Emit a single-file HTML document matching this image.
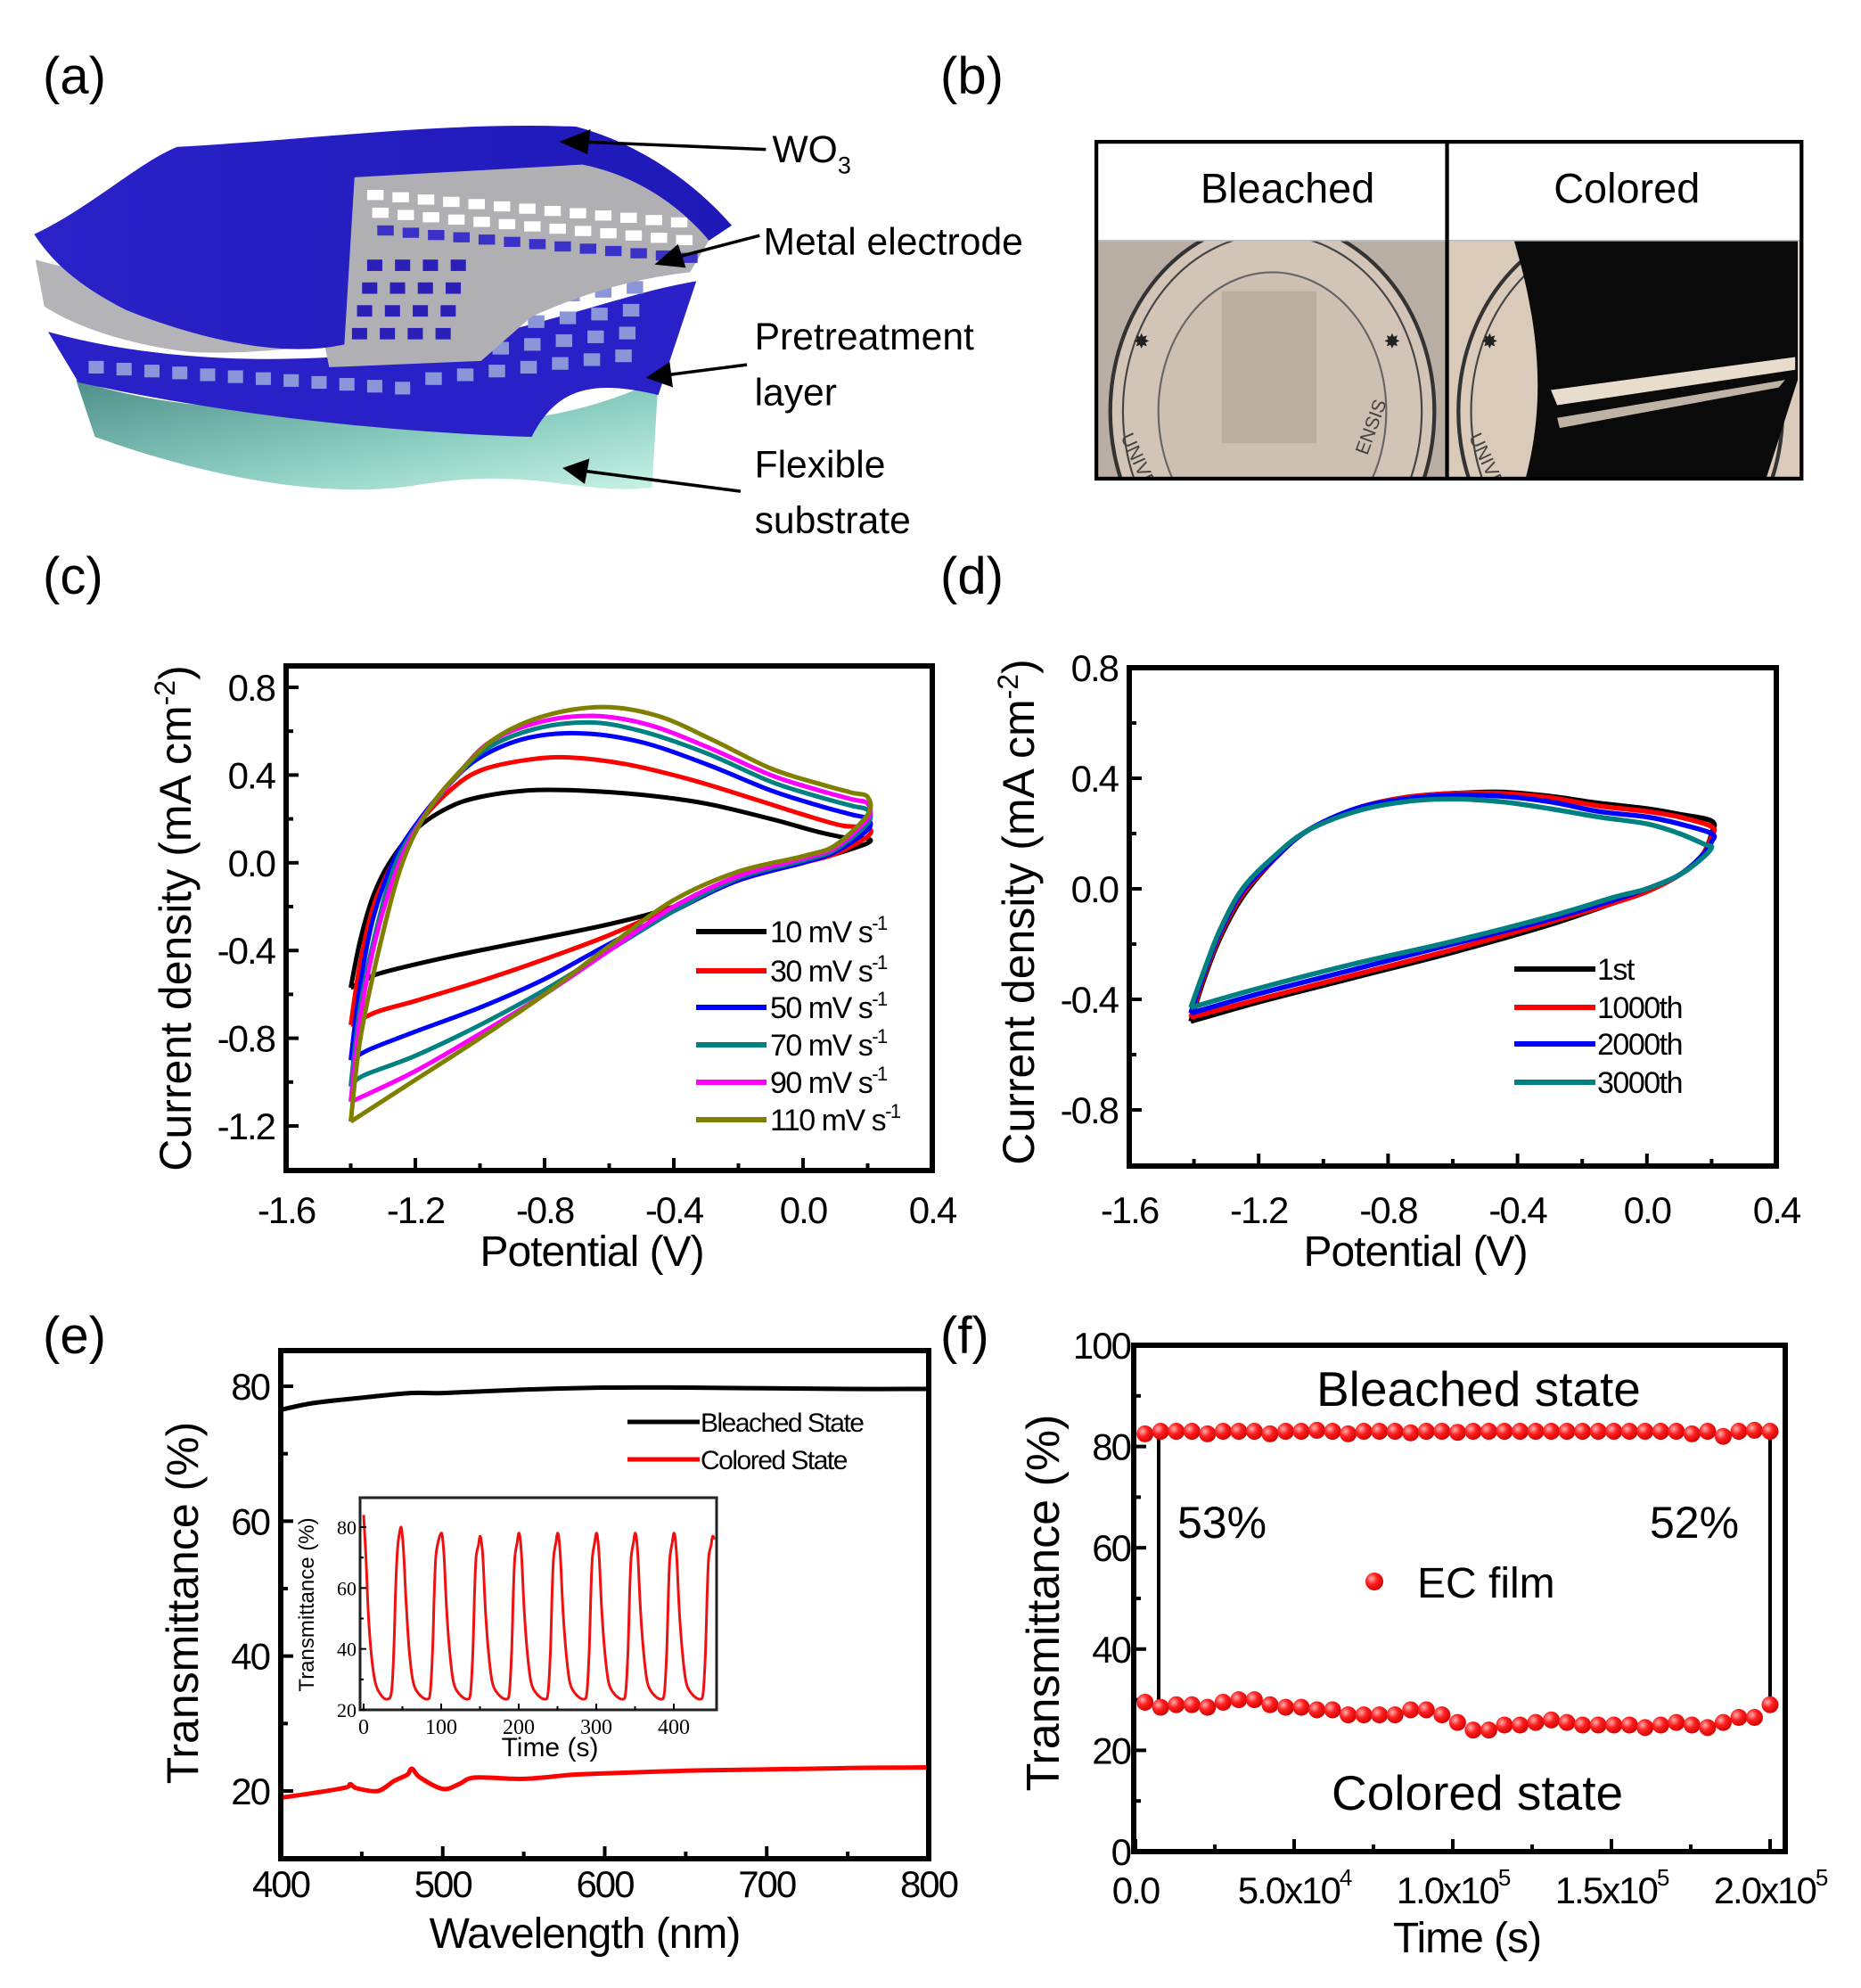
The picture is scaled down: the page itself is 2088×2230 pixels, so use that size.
<!DOCTYPE html>
<html><head><meta charset="utf-8">
<style>
html,body{margin:0;padding:0;background:#fff;}
svg{display:block;font-family:"Liberation Sans",Arial,sans-serif;}
</style></head>
<body>
<svg id="fig" xmlns="http://www.w3.org/2000/svg" width="2088" height="2230" viewBox="0 0 2088 2230">
<defs>
<linearGradient id="tealg" x1="0" y1="0" x2="1" y2="1">
<stop offset="0" stop-color="#4f8f8a"/><stop offset="0.6" stop-color="#8fd0c4"/><stop offset="1" stop-color="#c8f2e6"/>
</linearGradient>
<linearGradient id="blueg" x1="0" y1="0" x2="1" y2="0">
<stop offset="0" stop-color="#2a22c8"/><stop offset="1" stop-color="#1f18b8"/>
</linearGradient>
<radialGradient id="dotg" cx="0.35" cy="0.35" r="0.7">
<stop offset="0" stop-color="#ffb0b0"/><stop offset="0.45" stop-color="#ff2020"/><stop offset="1" stop-color="#d00000"/>
</radialGradient>
<clipPath id="clipc"><rect x="321" y="747" width="725" height="566"/></clipPath>
<clipPath id="clipd"><rect x="1267" y="749" width="726" height="559"/></clipPath>
<clipPath id="clipe"><rect x="315" y="1515" width="727" height="570"/></clipPath>
<clipPath id="clipi"><rect x="404" y="1680" width="400" height="238"/></clipPath>
</defs>

<text x="48" y="105" font-size="58">(a)</text>
<text x="1055" y="105" font-size="58">(b)</text>
<text x="48" y="666" font-size="58">(c)</text>
<text x="1055" y="666" font-size="58">(d)</text>
<text x="48" y="1518" font-size="58">(e)</text>
<text x="1055" y="1518" font-size="58">(f)</text>

<g transform="scale(1.42043)">
  <path d="M60,300 C150,330 250,322 330,330 C400,338 460,328 520,300 L515,385 C460,392 420,368 330,383 C250,396 150,372 75,345 Z" fill="url(#tealg)"/>
  <path d="M38,262 C120,285 230,290 330,275 C420,262 490,232 550,222 L520,312 C470,300 440,305 420,345 C330,342 200,332 62,302 Z" fill="#2a20c8"/>
  <g id="pretreat-holes"></g>
  <path d="M28,205 C110,228 220,232 300,215 C380,198 460,170 520,158 L560,190 C520,196 470,212 430,226 C340,262 230,282 150,278 C100,272 60,258 35,242 Z" fill="#b4b4b8"/>
  <path d="M265,140 L460,130 C500,138 535,160 560,190 L545,215 C500,220 460,232 420,250 L380,285 L260,290 L250,240 Z" fill="#b0b0b4"/>
  <g id="mesh-holes"></g>
  <path d="M27,185 C70,165 110,128 140,116 C250,110 350,96 455,100 C500,112 545,140 578,178 L560,190 C535,160 500,138 460,130 L280,140 L272,272 C220,284 150,265 100,245 C60,225 40,205 27,185 Z" fill="url(#blueg)"/>
  <text x="610" y="128" font-size="30">WO<tspan font-size="19" dy="9">3</tspan></text>
  <text x="603" y="201" font-size="30">Metal electrode</text>
  <text x="596" y="276" font-size="30">Pretreatment</text>
  <text x="596" y="320" font-size="30">layer</text>
  <text x="596" y="377" font-size="30">Flexible</text>
  <text x="596" y="421" font-size="30">substrate</text>
  <g stroke="#000" stroke-width="2.5" fill="#000">
    <line x1="605" y1="118" x2="460" y2="112"/>
    <polygon points="445,112 465,104 463,120"/>
    <line x1="600" y1="186" x2="535" y2="203"/>
    <polygon points="520,208 535,195 540,210"/>
    <line x1="590" y1="288" x2="528" y2="296"/>
    <polygon points="513,298 528,288 530,304"/>
    <line x1="585" y1="388" x2="462" y2="372"/>
    <polygon points="447,370 464,364 461,380"/>
  </g>
</g>

<g transform="scale(1.42043)">
  <rect x="866" y="112" width="557" height="266" fill="#fff"/>
  <clipPath id="clipb1"><rect x="866" y="190" width="277" height="188"/></clipPath>
  <clipPath id="clipb2"><rect x="1143" y="190" width="280" height="188"/></clipPath>
  <rect x="866" y="190" width="277" height="188" fill="#b9aea3"/>
  <g clip-path="url(#clipb1)">
    <ellipse cx="1005" cy="325" rx="128" ry="150" fill="#d2c4b6" stroke="#333" stroke-width="3"/>
    <ellipse cx="1005" cy="325" rx="118" ry="140" fill="none" stroke="#444" stroke-width="1.5"/>
    <ellipse cx="1005" cy="325" rx="90" ry="110" fill="#cdbfb1" stroke="#666" stroke-width="1.5"/>
    <rect x="965" y="230" width="75" height="120" fill="#b7a89c" opacity="0.8"/>
    <text x="895" y="275" font-size="16" fill="#222">✸</text>
    <text x="1093" y="275" font-size="16" fill="#222">✸</text>
    <text x="885" y="345" font-size="15" fill="#444" transform="rotate(65 885 345)">UNIVER</text>
    <text x="1080" y="360" font-size="15" fill="#444" transform="rotate(-70 1080 360)">ENSIS</text>
  </g>
  <rect x="1143" y="190" width="280" height="188" fill="#d9cab9"/>
  <g clip-path="url(#clipb2)">
    <ellipse cx="1280" cy="325" rx="128" ry="150" fill="none" stroke="#333" stroke-width="3"/>
    <ellipse cx="1280" cy="325" rx="118" ry="140" fill="none" stroke="#444" stroke-width="1.5"/>
    <text x="1170" y="275" font-size="16" fill="#222">✸</text>
    <text x="1160" y="345" font-size="15" fill="#444" transform="rotate(65 1160 345)">UNIVE</text>
    <path d="M1196,190 L1420,190 L1420,300 L1395,378 L1205,378 C1215,340 1218,300 1210,250 C1205,220 1200,205 1196,190 Z" fill="#0a0a0a"/>
    <path d="M1225,308 L1418,282 L1418,292 L1230,320 Z" fill="#e8dccd"/>
    <path d="M1230,330 L1410,300 L1405,306 L1232,338 Z" fill="#bfb3a6"/>
  </g>
  <line x1="866" y1="190" x2="1423" y2="190" stroke="#bbb" stroke-width="1"/>
  <rect x="866" y="112" width="557" height="266" fill="none" stroke="#000" stroke-width="3"/>
  <line x1="1143" y1="112" x2="1143" y2="378" stroke="#000" stroke-width="3"/>
  <text x="1017" y="160" font-size="33" text-anchor="middle">Bleached</text>
  <text x="1285" y="160" font-size="33" text-anchor="middle">Colored</text>
</g>

<g id="charts"></g>
</svg>

<script>
const cLabels = ["10 mV s", "30 mV s", "50 mV s", "70 mV s", "90 mV s", "110 mV s"];
const cColors = ["#000000", "#ff0000", "#0000ff", "#008080", "#ff00ff", "#808000"];
const c10 = [[-1.4,-0.57],[-1.37,-0.35],[-1.33,-0.15],[-1.28,0.0],[-1.2,0.15],[-1.1,0.25],[-1.0,0.30],[-0.85,0.33],[-0.7,0.33],[-0.5,0.31],[-0.3,0.27],[-0.1,0.2],[0.05,0.14],[0.15,0.11],[0.2,0.11],[0.2,0.09],[0.1,0.04],[0.0,0.0],[-0.2,-0.08],[-0.4,-0.2],[-0.6,-0.28],[-0.9,-0.37],[-1.1,-0.43],[-1.3,-0.5],[-1.35,-0.53],[-1.4,-0.57]];
const c30 = [[-1.4,-0.74],[-1.37,-0.45],[-1.33,-0.2],[-1.27,0.0],[-1.2,0.16],[-1.1,0.32],[-1.0,0.42],[-0.85,0.47],[-0.72,0.48],[-0.55,0.45],[-0.35,0.38],[-0.15,0.29],[0.0,0.22],[0.12,0.17],[0.2,0.16],[0.2,0.12],[0.1,0.04],[0.0,0.0],[-0.2,-0.08],[-0.4,-0.2],[-0.6,-0.33],[-0.8,-0.44],[-1.0,-0.54],[-1.2,-0.63],[-1.32,-0.68],[-1.4,-0.74]];
const c50 = [[-1.4,-0.9],[-1.37,-0.55],[-1.33,-0.25],[-1.27,0.0],[-1.2,0.17],[-1.1,0.35],[-1.0,0.48],[-0.85,0.57],[-0.68,0.59],[-0.5,0.55],[-0.3,0.45],[-0.1,0.33],[0.05,0.26],[0.15,0.22],[0.2,0.2],[0.2,0.15],[0.1,0.05],[0.0,0.0],[-0.2,-0.08],[-0.4,-0.22],[-0.6,-0.37],[-0.8,-0.53],[-1.0,-0.66],[-1.2,-0.77],[-1.34,-0.85],[-1.4,-0.9]];
const c70 = [[-1.4,-1.02],[-1.37,-0.65],[-1.32,-0.3],[-1.26,0.0],[-1.18,0.2],[-1.08,0.38],[-0.98,0.52],[-0.83,0.61],[-0.66,0.64],[-0.5,0.6],[-0.3,0.5],[-0.1,0.37],[0.05,0.3],[0.15,0.26],[0.2,0.24],[0.2,0.18],[0.1,0.06],[0.0,0.01],[-0.2,-0.07],[-0.4,-0.22],[-0.6,-0.4],[-0.8,-0.58],[-1.0,-0.74],[-1.2,-0.88],[-1.36,-0.97],[-1.4,-1.02]];
const c90 = [[-1.4,-1.09],[-1.37,-0.7],[-1.32,-0.33],[-1.25,0.0],[-1.17,0.22],[-1.07,0.4],[-0.97,0.55],[-0.82,0.64],[-0.65,0.67],[-0.48,0.63],[-0.3,0.53],[-0.1,0.4],[0.05,0.33],[0.15,0.29],[0.2,0.27],[0.2,0.2],[0.1,0.07],[0.0,0.02],[-0.2,-0.06],[-0.4,-0.2],[-0.6,-0.4],[-0.8,-0.6],[-1.0,-0.78],[-1.2,-0.95],[-1.37,-1.07],[-1.4,-1.09]];
const c110 = [[-1.4,-1.18],[-1.37,-0.8],[-1.31,-0.38],[-1.24,0.0],[-1.16,0.24],[-1.06,0.42],[-0.95,0.57],[-0.8,0.67],[-0.62,0.71],[-0.45,0.67],[-0.28,0.56],[-0.1,0.43],[0.05,0.36],[0.15,0.32],[0.2,0.3],[0.2,0.22],[0.1,0.08],[0.0,0.03],[-0.2,-0.04],[-0.4,-0.17],[-0.6,-0.38],[-0.8,-0.6],[-1.0,-0.8],[-1.2,-0.99],[-1.4,-1.18]];
const cXTicks = [-1.6, -1.2, -0.8, -0.4, 0.0, 0.4];
const cXTickLabels = ["-1.6", "-1.2", "-0.8", "-0.4", "0.0", "0.4"];
const cYTicks = [0.8, 0.4, 0.0, -0.4, -0.8, -1.2];
const cYTickLabels = ["0.8", "0.4", "0.0", "-0.4", "-0.8", "-1.2"];

const dLabels = ["1st", "1000th", "2000th", "3000th"];
const dColors = ["#000000", "#ff0000", "#0000ff", "#008080"];
const d1 = [[-1.41,-0.48],[-1.37,-0.33],[-1.32,-0.18],[-1.25,-0.03],[-1.15,0.11],[-1.05,0.21],[-0.9,0.29],[-0.75,0.33],[-0.6,0.345],[-0.45,0.35],[-0.3,0.335],[-0.15,0.31],[0.0,0.29],[0.1,0.27],[0.2,0.245],[0.2,0.2],[0.17,0.12],[0.1,0.05],[0.0,-0.01],[-0.1,-0.05],[-0.3,-0.13],[-0.6,-0.23],[-0.9,-0.32],[-1.2,-0.41],[-1.41,-0.48]];
const d1000 = [[-1.41,-0.465],[-1.37,-0.32],[-1.32,-0.17],[-1.25,-0.02],[-1.15,0.11],[-1.05,0.21],[-0.9,0.29],[-0.75,0.33],[-0.6,0.345],[-0.45,0.345],[-0.3,0.33],[-0.15,0.3],[0.0,0.28],[0.1,0.26],[0.2,0.225],[0.2,0.19],[0.17,0.12],[0.1,0.05],[0.0,-0.01],[-0.1,-0.05],[-0.3,-0.12],[-0.6,-0.22],[-0.9,-0.31],[-1.2,-0.4],[-1.41,-0.465]];
const d2000 = [[-1.41,-0.45],[-1.37,-0.31],[-1.32,-0.16],[-1.25,-0.01],[-1.15,0.11],[-1.05,0.21],[-0.9,0.29],[-0.75,0.325],[-0.6,0.34],[-0.45,0.335],[-0.3,0.315],[-0.15,0.28],[0.0,0.26],[0.1,0.235],[0.2,0.2],[0.2,0.17],[0.17,0.12],[0.1,0.05],[0.0,-0.0],[-0.1,-0.04],[-0.3,-0.11],[-0.6,-0.2],[-0.9,-0.29],[-1.2,-0.38],[-1.41,-0.45]];
const d3000 = [[-1.41,-0.43],[-1.37,-0.3],[-1.32,-0.15],[-1.25,0.0],[-1.15,0.12],[-1.05,0.21],[-0.9,0.28],[-0.75,0.315],[-0.6,0.325],[-0.45,0.315],[-0.3,0.29],[-0.15,0.26],[0.0,0.235],[0.1,0.2],[0.18,0.16],[0.2,0.15],[0.17,0.11],[0.1,0.05],[0.0,0.0],[-0.1,-0.03],[-0.3,-0.1],[-0.6,-0.19],[-0.9,-0.27],[-1.2,-0.36],[-1.41,-0.43]];
const dXTicks = [-1.6, -1.2, -0.8, -0.4, 0.0, 0.4];
const dXTickLabels = ["-1.6", "-1.2", "-0.8", "-0.4", "0.0", "0.4"];
const dYTicks = [0.8, 0.4, 0.0, -0.4, -0.8];
const dYTickLabels = ["0.8", "0.4", "0.0", "-0.4", "-0.8"];

const eWaveBleached = [400, 420, 450, 480, 500, 550, 600, 650, 700, 750, 800];
const eBleached = [76.5, 77.5, 78.3, 79.0, 79.0, 79.5, 79.8, 79.8, 79.7, 79.6, 79.6];
const eWaveColored = [400, 420, 440, 443, 447, 460, 470, 478, 481, 486, 500, 510, 520, 550, 580, 600, 650, 700, 750, 800];
const eColored = [19.0, 19.7, 20.5, 21.0, 20.4, 20.0, 21.5, 22.4, 23.3, 22.0, 20.3, 21.0, 22.0, 21.8, 22.4, 22.6, 23.0, 23.2, 23.4, 23.5];
const eXTicks = [400, 500, 600, 700, 800];
const eXTickLabels = ["400", "500", "600", "700", "800"];
const eYTicks = [20, 40, 60, 80];
const eYTickLabels = ["20", "40", "60", "80"];
const insetT = [0,3,6,10,15,22,30,36,39,41,43,45,48,
 50,52,55,59,64,72,82,86,89,91,93,96,100,
 102,104,107,111,116,124,134,138,141,143,145,148,150,
 152,154,157,161,166,174,184,188,191,193,195,198,200,
 202,204,207,211,216,224,234,238,241,243,245,248,250,
 252,254,257,261,266,274,284,288,291,293,295,298,300,
 302,304,307,311,316,324,334,338,341,343,345,348,350,
 352,354,357,361,366,374,384,388,391,393,395,398,400,
 402,404,407,411,416,424,434,438,441,443,445,448,450,452];
const insetV = [84,70,52,38,29,25,23.5,26,40,58,70,76,80,
 77,70,54,39,29,25,23.5,26,40,58,70,75,78,
 76,69,53,39,29,25,23.5,26,40,58,70,74,77,
 75,69,53,39,29,25,23.5,26,40,58,70,75,78,
 76,69,53,39,29,25,23.5,26,40,58,70,75,78,
 76,69,53,39,29,25,23.5,26,40,58,70,75,78,
 76,69,53,39,29,25,23.5,26,40,58,70,75,78,
 76,69,53,39,29,25,23.5,26,40,58,70,75,78,
 76,69,53,39,29,25,23.5,26,40,58,70,74,77,76];
const insetXTicks = [0, 100, 200, 300, 400];
const insetYTicks = [20, 40, 60, 80];

const fTime = [3000,7925,12850,17775,22700,27625,32550,37475,42400,47325,52250,57175,62100,67025,71950,76875,81800,86725,91650,96575,101500,106425,111350,116275,121200,126125,131050,135975,140900,145825,150750,155675,160600,165525,170450,175375,180300,185225,190150,195075,200000];
const fBleached = [82.5,83,83,83,82.5,83,83,83,82.5,83,83,83.2,83,82.5,83,83,83,82.7,83,83,82.8,83,83,83,83,83,83,83,83,83,83,83,83,83,83,82.5,83,82,83,83.2,83];
const fColored = [29.5,28.5,29,29,28.5,29.5,30,30,29,28.5,28.5,28,28,27,27,27,27,28,28,27,25.5,24,24,25,25,25.5,26,25.5,25,25,25,25,24.5,25,25.5,25,24.5,25.5,26.5,26.5,29];
const fMarkT = [7300, 200000];
const fMarkLow = [29, 29];
const fMarkHigh = [82.5, 83];
const fMarkText = ["53%", "52%"];
const fXTicks = [0, 50000, 100000, 150000, 200000];
const fXTickMant = ["0.0", "5.0x10", "1.0x10", "1.5x10", "2.0x10"];
const fXTickExp = ["", "4", "5", "5", "5"];
const fYTicks = [0, 20, 40, 60, 80, 100];

const NS = "http://www.w3.org/2000/svg";
const root = document.getElementById("charts");
function mk(tag, attrs, parent) {
  const e = document.createElementNS(NS, tag);
  for (const k in attrs) e.setAttribute(k, attrs[k]);
  (parent || root).appendChild(e);
  return e;
}
function lin(d0, d1, r0, r1) { return v => r0 + (v - d0) * (r1 - r0) / (d1 - d0); }
function smoothPath(pts) {
  let d = "M" + pts[0][0].toFixed(1) + "," + pts[0][1].toFixed(1);
  for (let i = 0; i < pts.length - 1; i++) {
    const p0 = pts[Math.max(0, i - 1)], p1 = pts[i], p2 = pts[i + 1], p3 = pts[Math.min(pts.length - 1, i + 2)];
    const c1x = p1[0] + (p2[0] - p0[0]) / 6, c1y = p1[1] + (p2[1] - p0[1]) / 6;
    const c2x = p2[0] - (p3[0] - p1[0]) / 6, c2y = p2[1] - (p3[1] - p1[1]) / 6;
    d += " C" + c1x.toFixed(1) + "," + c1y.toFixed(1) + " " + c2x.toFixed(1) + "," + c2y.toFixed(1) + " " + p2[0].toFixed(1) + "," + p2[1].toFixed(1);
  }
  return d;
}
function box(x, y, w, h, sw) {
  const r = mk("rect", {x: x, y: y, width: w, height: h, fill: "none", stroke: "#000", "stroke-width": sw});
  
  
}
function tickX(sx, val, yb, len, sw) {
  const t = mk("line", {x1: sx(val), x2: sx(val), y1: yb, y2: yb - len, stroke: "#000", "stroke-width": sw});
  
  
}
function tickY(sy, val, xl, len, sw) {
  const t = mk("line", {x1: xl, x2: xl + len, y1: sy(val), y2: sy(val), stroke: "#000", "stroke-width": sw});
  
  
}
function label(x, y, txt, size, anchor, name, extra) {
  const t = mk("text", Object.assign({x: x, y: y, "font-size": size, "text-anchor": anchor || "start"}, extra || {}));
  t.textContent = txt;
  
  
  return t;
}
function vtitle(x, y, size, name) {
  const t = mk("text", {x: 0, y: 0, "font-size": size, "text-anchor": "middle", transform: "translate(" + x + "," + y + ") rotate(-90)"});
  
  
  return t;
}
const TL = {"letter-spacing": "-2"};

(function () {
  const sx = lin(-1.6, 0.4, 321, 1046), sy = lin(0.8, -1.2, 771, 1263);
  const series = [c10, c30, c50, c70, c90, c110];
  const g = mk("g", {"clip-path": "url(#clipc)"});
  
  
  series.forEach((s, i) => {
    const p = mk("path", {d: smoothPath(s.map(q => [sx(q[0]), sy(q[1])])), fill: "none", stroke: cColors[i], "stroke-width": 5, "stroke-linejoin": "round"}, g);
    
    
  });
  box(321, 747, 725, 566, 6);
  [-1.4, -1.0, -0.6, -0.2, 0.2].forEach(v => tickX(sx, v, 1313, 8, 4));
  cXTicks.forEach((v, i) => { tickX(sx, v, 1313, 14, 4); label(sx(v), 1372, cXTickLabels[i], 42, "middle", "x-tick-label", TL); });
  [0.6, 0.2, -0.2, -0.6, -1.0].forEach(v => tickY(sy, v, 321, 8, 4));
  cYTicks.forEach((v, i) => { tickY(sy, v, 321, 14, 4); label(308, sy(v) + 15, cYTickLabels[i], 42, "end", "y-tick-label", TL); });
  const yt = vtitle(214, 1030, 50, "y-axis-title");
  yt.innerHTML = 'Current density (mA cm<tspan font-size="32" dy="-18">-2</tspan><tspan dy="18">)</tspan>';
  label(664, 1420, "Potential (V)", 48, "middle", "x-axis-title", {"letter-spacing": "-1"});
  const legY = [1045, 1089, 1130, 1172, 1214, 1256];
  cLabels.forEach((l, i) => {
    const ln = mk("line", {x1: 781, x2: 860, y1: legY[i], y2: legY[i], stroke: cColors[i], "stroke-width": 6});
    
    
    const t = label(864, legY[i] + 12, "", 34, "start", "legend-entry", {"letter-spacing": "-1.5"});
    t.innerHTML = l + '<tspan font-size="22" dy="-14">-1</tspan>';
  });
})();

(function () {
  const sx = lin(-1.6, 0.4, 1267, 1993), sy = lin(0.8, -0.8, 749, 1245);
  const series = [d1, d1000, d2000, d3000];
  const g = mk("g", {"clip-path": "url(#clipd)"});
  
  
  series.forEach((s, i) => {
    const p = mk("path", {d: smoothPath(s.map(q => [sx(q[0]), sy(q[1])])), fill: "none", stroke: dColors[i], "stroke-width": 5.5, "stroke-linejoin": "round"}, g);
    
    
  });
  box(1267, 749, 726, 559, 6);
  [-1.4, -1.0, -0.6, -0.2, 0.2].forEach(v => tickX(sx, v, 1308, 8, 4));
  dXTicks.forEach((v, i) => { tickX(sx, v, 1308, 14, 4); label(sx(v), 1372, dXTickLabels[i], 42, "middle", "x-tick-label", TL); });
  [0.6, 0.2, -0.2, -0.6].forEach(v => tickY(sy, v, 1267, 8, 4));
  dYTicks.forEach((v, i) => { tickY(sy, v, 1267, 14, 4); label(1254, sy(v) + 15, dYTickLabels[i], 42, "end", "y-tick-label", TL); });
  const yt = vtitle(1160, 1023, 50, "y-axis-title");
  yt.innerHTML = 'Current density (mA cm<tspan font-size="32" dy="-18">-2</tspan><tspan dy="18">)</tspan>';
  label(1588, 1420, "Potential (V)", 48, "middle", "x-axis-title", {"letter-spacing": "-1"});
  const legY = [1087, 1130, 1171, 1214];
  dLabels.forEach((l, i) => {
    const ln = mk("line", {x1: 1699, x2: 1790, y1: legY[i], y2: legY[i], stroke: dColors[i], "stroke-width": 6});
    
    
    label(1792, legY[i] + 12, l, 34, "start", "legend-entry", {"letter-spacing": "-1.5"});
  });
})();

(function () {
  const sx = lin(400, 800, 315, 1042), sy = lin(80, 20, 1555, 2009);
  const g = mk("g", {"clip-path": "url(#clipe)"});
  
  
  const pb = mk("path", {d: smoothPath(eWaveBleached.map((w, i) => [sx(w), sy(eBleached[i])])), fill: "none", stroke: "#000", "stroke-width": 5}, g);
  
  
  const pc = mk("path", {d: smoothPath(eWaveColored.map((w, i) => [sx(w), sy(eColored[i])])), fill: "none", stroke: "#ff0000", "stroke-width": 5}, g);
  
  
  box(315, 1515, 727, 570, 6);
  [450, 550, 650, 750].forEach(v => tickX(sx, v, 2085, 8, 4));
  eXTicks.forEach((v, i) => { tickX(sx, v, 2085, 14, 4); label(sx(v), 2128, eXTickLabels[i], 42, "middle", "x-tick-label", TL); });
  [10, 30, 50, 70].forEach(v => tickY(sy, v, 315, 8, 4));
  eYTicks.forEach((v, i) => { tickY(sy, v, 315, 14, 4); label(302, sy(v) + 15, eYTickLabels[i], 42, "end", "y-tick-label", TL); });
  vtitle(222, 1798, 50, "y-axis-title").textContent = "Transmittance (%)";
  label(656, 2185, "Wavelength (nm)", 48, "middle", "x-axis-title", {"letter-spacing": "-1"});
  const legNames = ["Bleached State", "Colored State"], legCol = ["#000", "#ff0000"], legY = [1595, 1637];
  legNames.forEach((l, i) => {
    const ln = mk("line", {x1: 704, x2: 785, y1: legY[i], y2: legY[i], stroke: legCol[i], "stroke-width": 5});
    
    
    label(786, legY[i] + 11, l, 30, "start", "legend-entry", {"letter-spacing": "-1.5"});
  });
  const ix = lin(0, 400, 408, 756), iy = lin(80, 20, 1713, 1918);
  const ib = mk("rect", {x: 404, y: 1680, width: 400, height: 238, fill: "#fff"});
  
  
  const ig = mk("g", {"clip-path": "url(#clipi)"});
  
  
  const ip = mk("path", {d: smoothPath(insetT.map((t, i) => [ix(t), iy(insetV[i])])), fill: "none", stroke: "#ee1111", "stroke-width": 3}, ig);
  
  
  const ir = mk("rect", {x: 404, y: 1680, width: 400, height: 238, fill: "none", stroke: "#222", "stroke-width": 3});
  
  
  [50, 150, 250, 350].forEach(v => tickX(ix, v, 1918, 4, 2));
  insetXTicks.forEach(v => { tickX(ix, v, 1918, 7, 2); label(ix(v), 1945, String(v), 24, "middle", "inset-x-tick-label", {"font-family": "Liberation Serif, serif"}); });
  [30, 50, 70].forEach(v => tickY(iy, v, 404, 4, 2));
  insetYTicks.forEach(v => { tickY(iy, v, 404, 7, 2); label(400, iy(v) + 8, String(v), 22, "end", "inset-y-tick-label", {"font-family": "Liberation Serif, serif"}); });
  vtitle(352, 1800, 24, "inset-y-axis-title").textContent = "Transmittance (%)";
  label(617, 1970, "Time (s)", 30, "middle", "inset-x-axis-title");
})();

(function () {
  const sx = lin(0, 200000, 1274, 1986), sy = lin(0, 100, 2077, 1509);
  box(1272, 1509, 731, 568, 6);
  [25000, 75000, 125000, 175000].forEach(v => tickX(sx, v, 2077, 8, 4));
  fXTicks.forEach((v, i) => {
    tickX(sx, v, 2077, 14, 4);
    const t = label(sx(v), 2135, "", 42, "middle", "x-tick-label", TL);
    t.innerHTML = fXTickMant[i] + (fXTickExp[i] ? '<tspan font-size="26" dy="-20">' + fXTickExp[i] + '</tspan>' : '');
  });
  [10, 30, 50, 70, 90].forEach(v => tickY(sy, v, 1272, 8, 4));
  fYTicks.forEach(v => { tickY(sy, v, 1272, 14, 4); label(1268, sy(v) + 15, String(v), 42, "end", "y-tick-label", TL); });
  fMarkT.forEach((t, i) => {
    const l = mk("line", {x1: sx(t), x2: sx(t), y1: sy(fMarkLow[i]), y2: sy(fMarkHigh[i]), stroke: "#000", "stroke-width": 4});
    
    
  });
  label(1321, 1725, fMarkText[0], 50, "start", "contrast-label-start");
  label(1851, 1725, fMarkText[1], 50, "start", "contrast-label-end");
  fTime.forEach((t, i) => {
    const a = mk("circle", {cx: sx(t), cy: sy(fBleached[i]), r: 9.5, fill: "url(#dotg)"});
    
    
    const b = mk("circle", {cx: sx(t), cy: sy(fColored[i]), r: 9.5, fill: "url(#dotg)"});
    
    
  });
  const ld = mk("circle", {cx: 1542, cy: 1774, r: 10, fill: "url(#dotg)"});
  
  
  label(1590, 1792, "EC film", 48, "start", "legend-entry");
  label(1477, 1577, "Bleached state", 55, "start", "bleached-state-label");
  label(1494, 2030, "Colored state", 55, "start", "colored-state-label");
  vtitle(1188, 1798, 52, "y-axis-title").textContent = "Transmittance (%)";
  label(1646, 2190, "Time (s)", 48, "middle", "x-axis-title", {"letter-spacing": "-1"});
})();

(function () {
  const mh = document.getElementById("mesh-holes");
  for (let r = 0; r < 3; r++) for (let c = 0; c < 13; c++) {
    const x = 290 + c * 20 + r * 4, y = 150 + r * 14 + c * 1.8;
    const h = mk("rect", {x: x, y: y, width: 13, height: 8, fill: r === 2 ? "#3a32c8" : "#ffffff"}, mh);
    
    
  }
  for (let r = 0; r < 4; r++) for (let c = 0; c < 4; c++) {
    const x = 290 + c * 22 - r * 4, y = 205 + r * 18;
    const h = mk("rect", {x: x, y: y, width: 12, height: 9, fill: "#2a20b8"}, mh);
    
    
  }
  const ph = document.getElementById("pretreat-holes");
  for (let r = 0; r < 4; r++) for (let c = 0; c < 7; c++) {
    const x = 345 + c * 25 - r * 3, y = 240 + r * 18 - c * 3;
    const h = mk("rect", {x: x, y: y, width: 13, height: 10, fill: "#8a96d8"}, ph);
    
    
  }
  for (let c = 0; c < 12; c++) {
    const x = 70 + c * 22, y = 285 + c * 1.5;
    const h = mk("rect", {x: x, y: y, width: 12, height: 10, fill: "#8a96d8"}, ph);
    
    
  }
})();
</script>
</body></html>
